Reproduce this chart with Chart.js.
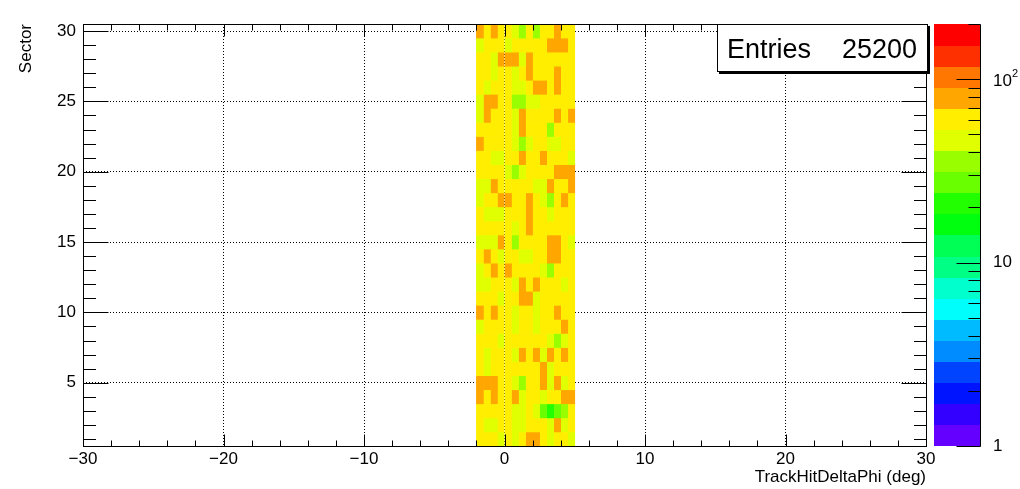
<!DOCTYPE html>
<html>
<head>
<meta charset="utf-8">
<script src="https://cdn.jsdelivr.net/npm/chart.js@4.4.1/dist/chart.umd.min.js"></script>
<style>
  html, body { margin: 0; padding: 0; background: #fff; }
  #wrap { width: 1020px; height: 489px; }
</style>
</head>
<body>
<div id="wrap"><canvas id="h2" width="1020" height="489"></canvas></div>
<script>
// bin edges along TrackHitDeltaPhi (deg), 0.5 deg bins
const phiEdges = [-2, -1.5, -1, -0.5, 0, 0.5, 1, 1.5, 2, 2.5, 3, 3.5, 4, 4.5, 5];
const sectors = [1, 2, 3, 4, 5, 6, 7, 8, 9, 10, 11, 12, 13, 14, 15,
                 16, 17, 18, 19, 20, 21, 22, 23, 24, 25, 26, 27, 28, 29, 30];

// counts per sector, one value per phi bin
const s1  = [58, 62, 60, 49, 63, 47, 61, 73, 77, 59, 46, 64, 62, 50];
const s2  = [61, 48, 46, 63, 59, 50, 47, 62, 60, 64, 49, 80, 51, 58];
const s3  = [60, 63, 58, 62, 57, 48, 51, 61, 47, 30, 22, 29, 37, 59];
const s4  = [79, 62, 75, 58, 60, 72, 50, 64, 61, 47, 59, 63, 77, 74];
const s5  = [76, 81, 73, 61, 59, 46, 37, 63, 60, 75, 49, 78, 48, 62];
const s6  = [63, 47, 60, 58, 62, 64, 57, 61, 59, 79, 50, 63, 60, 58];
const s7  = [58, 49, 62, 60, 63, 48, 74, 59, 78, 50, 72, 61, 76, 62];
const s8  = [62, 59, 64, 47, 60, 58, 63, 61, 57, 62, 48, 36, 51, 60];
const s9  = [49, 63, 58, 61, 64, 50, 59, 62, 46, 60, 57, 63, 75, 61];
const s10 = [78, 60, 74, 62, 57, 47, 61, 63, 49, 58, 60, 77, 64, 59];
const s11 = [61, 58, 63, 48, 60, 62, 76, 79, 50, 59, 64, 57, 61, 63];
const s12 = [46, 49, 61, 58, 63, 51, 80, 60, 73, 62, 57, 64, 48, 60];
const s13 = [50, 62, 74, 59, 77, 61, 64, 58, 60, 47, 38, 63, 59, 62];
const s14 = [59, 76, 62, 49, 58, 63, 47, 51, 64, 60, 82, 75, 61, 58];
const s15 = [48, 51, 46, 79, 61, 37, 58, 63, 60, 62, 78, 72, 57, 50];
const s16 = [60, 63, 58, 61, 64, 49, 59, 73, 62, 57, 60, 64, 59, 61];
const s17 = [62, 46, 50, 48, 59, 64, 57, 77, 61, 63, 47, 58, 60, 62];
const s18 = [49, 61, 58, 72, 78, 63, 60, 81, 57, 48, 36, 62, 74, 59];
const s19 = [47, 52, 77, 60, 63, 59, 62, 57, 49, 51, 75, 61, 64, 80];
const s20 = [58, 64, 61, 57, 50, 34, 47, 63, 60, 59, 62, 76, 83, 78];
const s21 = [63, 59, 46, 51, 62, 58, 79, 61, 64, 74, 60, 57, 62, 49];
const s22 = [75, 60, 57, 62, 59, 48, 35, 49, 63, 61, 47, 50, 64, 58];
const s23 = [61, 58, 63, 60, 65, 51, 77, 62, 59, 64, 37, 60, 57, 62];
const s24 = [50, 73, 61, 64, 58, 46, 81, 60, 57, 62, 59, 76, 63, 72];
const s25 = [48, 75, 79, 62, 59, 38, 36, 47, 51, 60, 64, 58, 61, 63];
const s26 = [62, 45, 60, 57, 64, 49, 52, 61, 78, 74, 59, 77, 63, 58];
const s27 = [59, 64, 47, 61, 58, 50, 63, 76, 62, 57, 60, 73, 65, 61];
const s28 = [63, 57, 49, 77, 82, 74, 51, 79, 61, 64, 58, 62, 60, 57];
const s29 = [46, 62, 59, 65, 50, 61, 58, 63, 60, 56, 75, 80, 73, 62];
const s30 = [74, 60, 76, 63, 58, 48, 37, 62, 35, 57, 61, 78, 59, 64];
const sectorRows = [s1, s2, s3, s4, s5, s6, s7, s8, s9, s10, s11, s12, s13, s14, s15,
                    s16, s17, s18, s19, s20, s21, s22, s23, s24, s25, s26, s27, s28, s29, s30];

const xTicks = [-30, -20, -10, 0, 10, 20, 30];
const yTicks = [5, 10, 15, 20, 25, 30];
const entries = 25200;
const zMin = 1, zMax = 200, nLevels = 20;

// ROOT default palette hues, level 0 (violet) .. level 19 (red)
const paletteHues = [263.2, 252, 235.2, 224, 207.2, 196, 179.2, 168, 151.2, 140,
                     123.2, 112, 95.2, 84, 67.2, 56, 39.2, 28, 11.2, 0];

const FONT = "'Liberation Sans', Arial, Helvetica, sans-serif";
Chart.defaults.font.family = FONT;
Chart.defaults.color = '#000';

function levelOf(v) {
  let k = Math.floor(nLevels * Math.log10(v / zMin) / Math.log10(zMax / zMin));
  return Math.max(0, Math.min(nLevels - 1, k));
}
function levelColor(k) {
  return 'hsl(' + paletteHues[k] + ',100%,50%)';
}

// one floating-bar dataset per phi bin
const datasets = phiEdges.slice(0, -1).map((lo, c) => ({
  data: sectors.map((s, i) => ({ x: [lo, phiEdges[c + 1]], y: s, v: sectorRows[i][c] })),
  backgroundColor: ctx => ctx.raw ? levelColor(levelOf(ctx.raw.v)) : '#fff',
  borderWidth: 0,
  grouped: false,
  barPercentage: 1,
  categoryPercentage: 1
}));

const rootFrame = {
  id: 'rootFrame',
  afterDraw(chart) {
    const { ctx, chartArea: a, scales: { x, y, z } } = chart;
    const L = Math.round(a.left) + 0.5, R = Math.round(a.right) + 0.5;
    const T = Math.round(a.top) + 0.5, B = Math.round(a.bottom) + 0.5;
    ctx.save();
    ctx.strokeStyle = '#000';
    ctx.lineWidth = 1;
    ctx.setLineDash([]);

    // ticks on all four sides, pointing inwards
    ctx.beginPath();
    for (let v = -30; v <= 30; v += 2) {
      const px = Math.round(x.getPixelForValue(v)) + 0.5;
      const len = v % 10 === 0 ? 12 : 6;
      ctx.moveTo(px, B); ctx.lineTo(px, B - len);
      ctx.moveTo(px, T); ctx.lineTo(px, T + len);
    }
    for (let v = 1; v <= 30; v++) {
      const py = Math.round(y.getPixelForValue(v)) + 0.5;
      const len = v % 5 === 0 ? 25 : 12.5;
      ctx.moveTo(L, py); ctx.lineTo(L + len, py);
      ctx.moveTo(R, py); ctx.lineTo(R - len, py);
    }
    ctx.stroke();
    ctx.strokeRect(L, T, R - L, B - T);

    // colour palette
    const pL = 934, pR = 980;
    for (let k = 0; k < nLevels; k++) {
      const v0 = zMin * Math.pow(zMax / zMin, k / nLevels);
      const v1 = zMin * Math.pow(zMax / zMin, (k + 1) / nLevels);
      const y0 = z.getPixelForValue(v0), y1 = z.getPixelForValue(v1);
      ctx.fillStyle = levelColor(k);
      ctx.fillRect(pL, Math.floor(y1), pR - pL, Math.ceil(y0) - Math.floor(y1));
    }
    ctx.beginPath();
    ctx.moveTo(pR + 0.5, T); ctx.lineTo(pR + 0.5, B);
    for (const d of [1, 10, 100]) {
      for (let m = 1; m <= 9; m++) {
        const v = d * m;
        if (v > zMax) break;
        const py = Math.round(z.getPixelForValue(v)) + 0.5;
        const len = m === 1 ? 24 : 12;
        ctx.moveTo(pR + 0.5, py); ctx.lineTo(pR + 0.5 - len, py);
      }
    }
    ctx.stroke();
    ctx.fillStyle = '#000';
    ctx.font = '17px ' + FONT;
    ctx.textAlign = 'left';
    ctx.textBaseline = 'middle';
    ctx.fillText('1', 993, z.getPixelForValue(1));
    ctx.fillText('10', 993, z.getPixelForValue(10));
    const y100 = z.getPixelForValue(100);
    ctx.fillText('10', 993, y100 + 2);
    const w10 = ctx.measureText('10').width;
    ctx.font = '11px ' + FONT;
    ctx.fillText('2', 993 + w10, y100 - 5);

    // statistics box
    const bx = 717, by = 24, bw = 211, bh = 48;
    ctx.fillStyle = '#000';
    ctx.fillRect(bx + 2, by + 2, bw, bh);
    ctx.fillStyle = '#fff';
    ctx.fillRect(bx, by, bw, bh);
    ctx.strokeRect(bx + 0.5, by + 0.5, bw - 1, bh - 1);
    ctx.fillStyle = '#000';
    ctx.font = '27px ' + FONT;
    ctx.textBaseline = 'alphabetic';
    ctx.textAlign = 'left';
    ctx.fillText('Entries', 727, 58);
    ctx.textAlign = 'right';
    ctx.fillText(String(entries), 917, 58);
    ctx.restore();
  }
};

new Chart(document.getElementById('h2'), {
  type: 'bar',
  data: { datasets },
  options: {
    indexAxis: 'y',
    responsive: false,
    animation: false,
    events: [],
    layout: { padding: { top: 24, right: 94, left: 0, bottom: 0 } },
    plugins: { legend: { display: false }, tooltip: { enabled: false } },
    scales: {
      x: {
        type: 'linear', position: 'bottom', min: -30, max: 30, offset: false, z: 1,
        afterBuildTicks: s => { s.ticks = xTicks.map(v => ({ value: v })); },
        afterFit: s => { s.height = 43; },
        grid: { color: '#000', lineWidth: 1, drawTicks: false, offset: false },
        border: { display: false, dash: [1, 2] },
        ticks: {
          padding: 3, maxRotation: 0, autoSkip: false, color: '#000',
          font: { size: 17 },
          callback: v => String(v).replace('-', '\u2212')
        },
        title: {
          display: true, text: 'TrackHitDeltaPhi (deg)', align: 'end', color: '#000',
          font: { size: 17 }, padding: { top: 0, bottom: 1 }
        }
      },
      y: {
        type: 'linear', position: 'left', min: 0.5, max: 30.5, offset: false, z: 1,
        afterBuildTicks: s => { s.ticks = yTicks.map(v => ({ value: v })); },
        afterFit: s => { s.width = 83; },
        grid: { color: '#000', lineWidth: 1, drawTicks: false, offset: false },
        border: { display: false, dash: [1, 2] },
        ticks: { padding: 7, autoSkip: false, color: '#000', font: { size: 17 } },
        title: {
          display: true, text: 'Sector', align: 'end', color: '#000',
          font: { size: 17 }, padding: { top: 16 }
        }
      },
      z: { type: 'logarithmic', position: 'right', min: zMin, max: zMax, display: false }
    }
  },
  plugins: [rootFrame]
});
</script>
</body>
</html>
